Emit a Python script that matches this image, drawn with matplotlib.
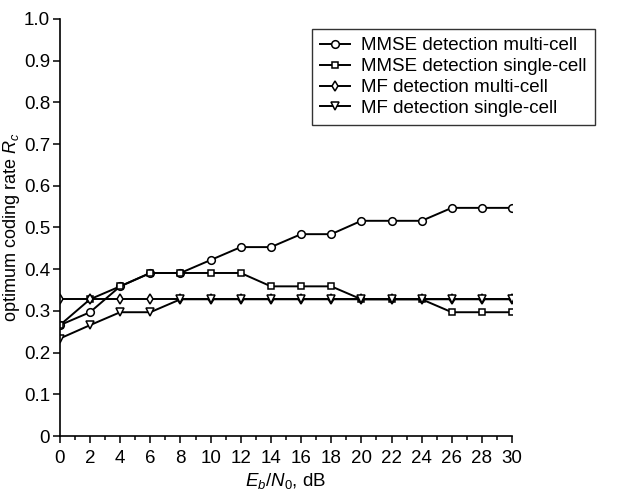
import matplotlib
matplotlib.use("Agg")
import matplotlib.pyplot as plt
from matplotlib.ticker import MultipleLocator, FuncFormatter

plt.rcParams['font.family'] = ['Liberation Sans', 'DejaVu Sans']
plt.rcParams['mathtext.fontset'] = 'custom'
plt.rcParams['mathtext.rm'] = 'Liberation Sans'
plt.rcParams['mathtext.it'] = 'Liberation Sans:italic'

# Datos
ebn0 = [0, 2, 4, 6, 8, 10, 12, 14, 16, 18, 20, 22, 24, 26, 28, 30]
mmse_multi = [0.266, 0.297, 0.359, 0.391, 0.391, 0.422, 0.453, 0.453,
              0.484, 0.484, 0.516, 0.516, 0.516, 0.547, 0.547, 0.547]
mmse_single = [0.266, 0.328, 0.359, 0.391, 0.391, 0.391, 0.391, 0.359,
               0.359, 0.359, 0.328, 0.328, 0.328, 0.297, 0.297, 0.297]
mf_multi = [0.328] * 16
mf_single = [0.234, 0.266, 0.297, 0.297, 0.328, 0.328, 0.328, 0.328,
             0.328, 0.328, 0.328, 0.328, 0.328, 0.328, 0.328, 0.328]

labels = ['MMSE detection multi-cell', 'MMSE detection single-cell',
          'MF detection multi-cell', 'MF detection single-cell']

fs = 13.5  # tamaño de fuente

fig = plt.figure(figsize=(6.17, 4.94), dpi=100)
ax = fig.add_axes([0.097, 0.117, 0.733, 0.845])

estilo = dict(color='black', linewidth=1.4, markerfacecolor='white',
              markeredgecolor='black', markeredgewidth=1.1)
ax.plot(ebn0, mmse_multi, marker='o', markersize=5.5, label=labels[0], **estilo)
ax.plot(ebn0, mmse_single, marker='s', markersize=4.5, label=labels[1], **estilo)
ax.plot(ebn0, mf_multi, marker='d', markersize=5.5, label=labels[2], **estilo)
ax.plot(ebn0, mf_single, marker='v', markersize=6, label=labels[3], **estilo)

ax.set_xlim(0, 30)
ax.set_ylim(0, 1.0)
ax.xaxis.set_major_locator(MultipleLocator(2))
ax.xaxis.set_minor_locator(MultipleLocator(1))
ax.yaxis.set_major_locator(MultipleLocator(0.1))
ax.yaxis.set_major_formatter(FuncFormatter(lambda v, p: '0' if abs(v) < 1e-9 else f'{v:.1f}'))

for s in ['top', 'right']:
    ax.spines[s].set_visible(False)
for s in ['left', 'bottom']:
    ax.spines[s].set_linewidth(1.2)

ax.tick_params(axis='both', which='major', direction='out', length=5, width=1.1, labelsize=fs)
ax.tick_params(axis='x', which='minor', direction='out', length=3, width=1.1)
ax.tick_params(axis='y', which='major', pad=2)
ax.tick_params(axis='x', which='major', pad=5)

ax.set_xlabel('$E_b/N_0$, dB', fontsize=fs, labelpad=3)
ax.set_ylabel('optimum coding rate $R_c$', fontsize=13, labelpad=1)

leg = ax.legend(loc='upper left', bbox_to_anchor=(0.557, 0.976), fontsize=fs,
                frameon=True, fancybox=False, edgecolor='black', handlelength=1.6,
                borderpad=0.45, labelspacing=0.2, handletextpad=0.6,
                borderaxespad=0)
leg.get_frame().set_linewidth(1.0)

plt.savefig('out.png', dpi=100)
